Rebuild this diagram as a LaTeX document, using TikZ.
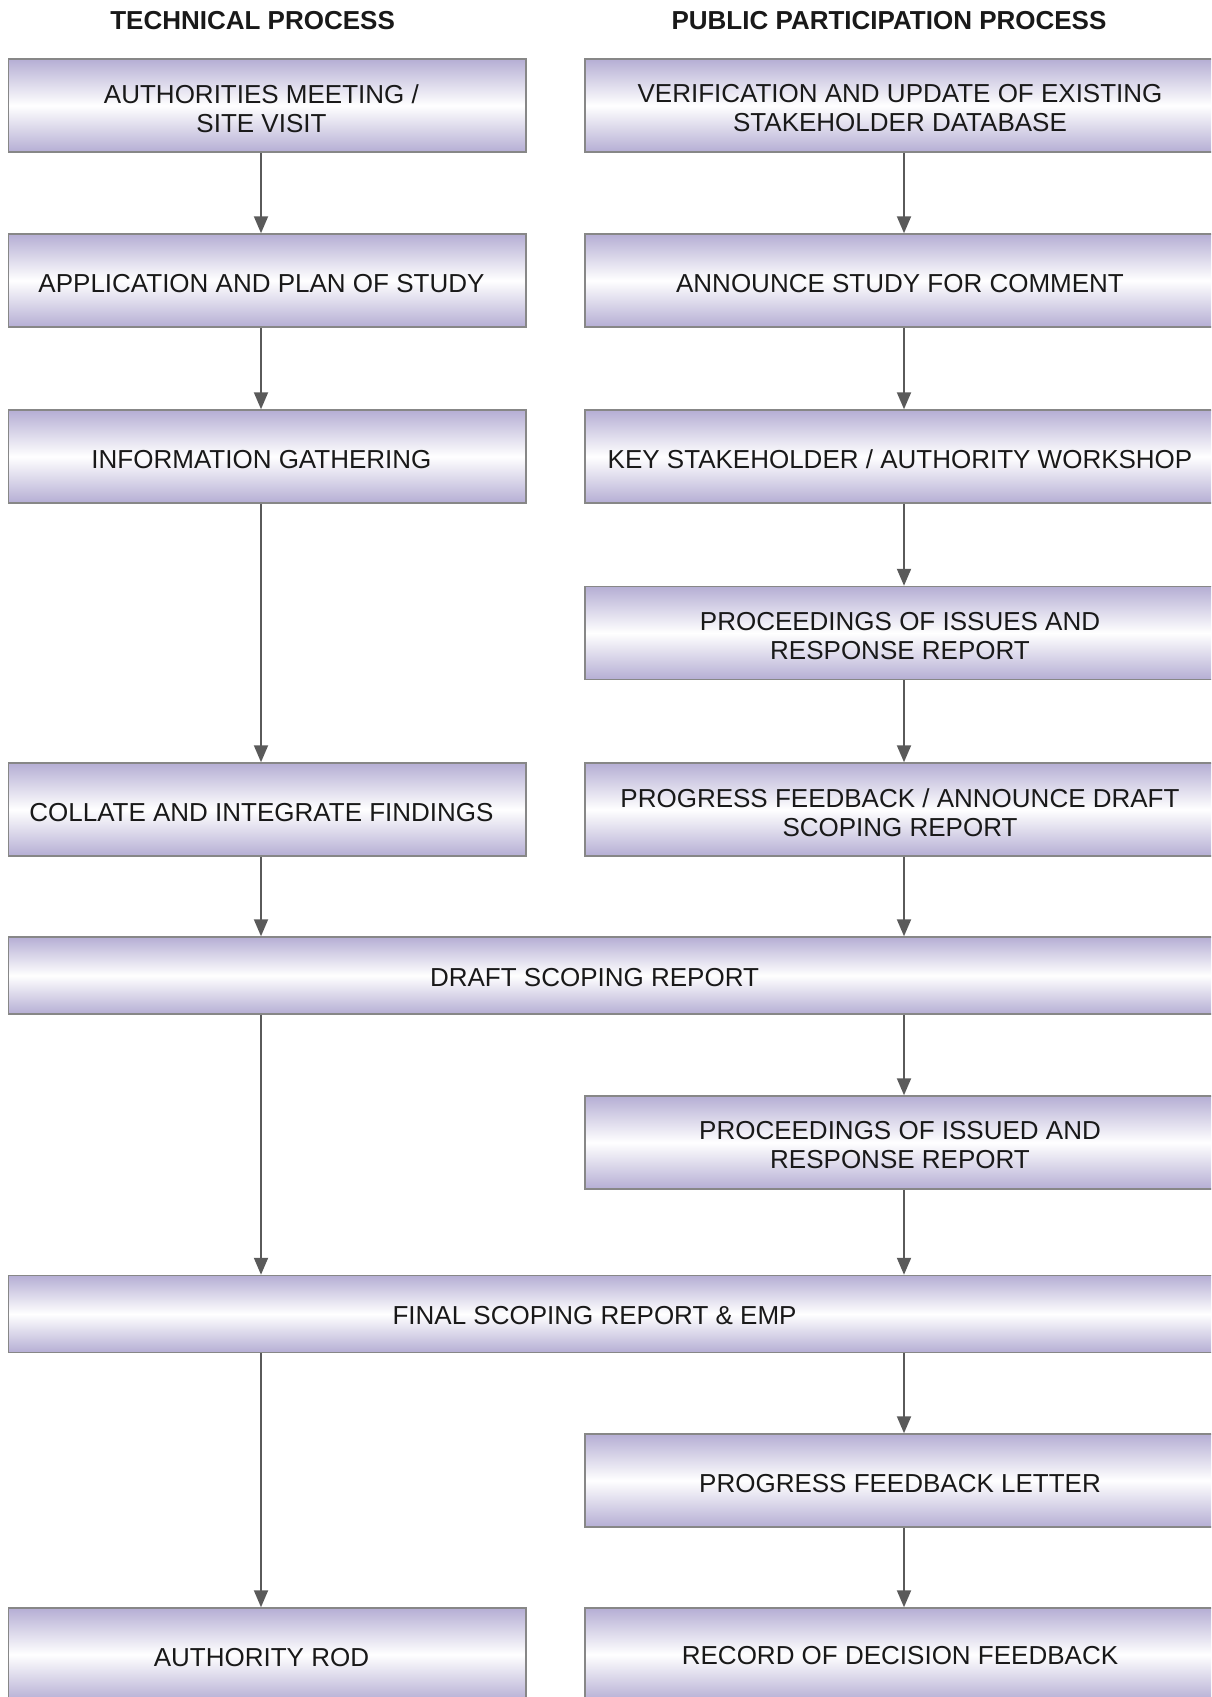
\documentclass[tikz,border=0pt]{standalone}
\usepackage{fontspec}
\setmainfont{Liberation Sans}
\usetikzlibrary{arrows.meta}
\definecolor{lav}{RGB}{181,174,212}
\definecolor{edgec}{RGB}{135,135,135}
\definecolor{arrc}{RGB}{90,90,90}
\begin{document}
\begin{tikzpicture}[x=0.5pt,y=-0.5pt,
  box/.style={draw=edgec, line width=0.75pt, top color=lav, bottom color=lav, middle color=white,
    minimum height=46.5pt, inner sep=0pt},
  txt/.style={align=center, inner sep=0pt, font=\fontsize{13}{14.5}\selectfont, text=black!90},
  lbox/.style={box, minimum width=258.75pt},
  rbox/.style={box, minimum width=315pt},
  wbox/.style={box, minimum width=603.25pt, minimum height=38.5pt},
  flow/.style={draw=arrc, line width=1pt, -{Triangle[width=7pt,length=8.5pt]}},
  title/.style={font=\fontsize{13}{15}\selectfont\bfseries, text=black!90}]
\useasboundingbox (0,0) rectangle (1211,1697);
\clip (0,0) rectangle (1211,1697);

\node[title] (t1) at (252.6,21) {TECHNICAL PROCESS};
\node[title] (t2) at (889,21) {PUBLIC PARTICIPATION PROCESS};

% left column
\node[lbox, label={[txt,xshift=-2.9pt,yshift=-1.5pt]center:{AUTHORITIES MEETING /\\SITE VISIT}}] (L1) at (267.25,105.5) {};
\node[lbox, label={[txt,xshift=-2.9pt,yshift=-1.5pt]center:{APPLICATION AND PLAN OF STUDY}}] (L2) at (267.25,280.5) {};
\node[lbox, label={[txt,xshift=-2.9pt,yshift=-1.5pt]center:{INFORMATION GATHERING}}] (L3) at (267.25,456.5) {};
\node[lbox, label={[txt,xshift=-2.9pt,yshift=-1.5pt]center:{COLLATE AND INTEGRATE FINDINGS}}] (L5) at (267.25,809.5) {};
\node[lbox, label={[txt,xshift=-2.9pt,yshift=-1.5pt]center:{AUTHORITY ROD}}] (L10) at (267.25,1654.5) {};

% right column
\node[rbox, label={[txt,yshift=-1.5pt]center:{VERIFICATION AND UPDATE OF EXISTING\\STAKEHOLDER DATABASE}}] (R1) at (900,105.5) {};
\node[rbox, label={[txt,yshift=-1.5pt]center:{ANNOUNCE STUDY FOR COMMENT}}] (R2) at (900,280.5) {};
\node[rbox, label={[txt,yshift=-1.5pt]center:{KEY STAKEHOLDER / AUTHORITY WORKSHOP}}] (R3) at (900,456.5) {};
\node[rbox, label={[txt,yshift=-1.5pt]center:{PROCEEDINGS OF ISSUES AND\\RESPONSE REPORT}}] (R4) at (900,633) {};
\node[rbox, label={[txt,yshift=-1.5pt]center:{PROGRESS FEEDBACK / ANNOUNCE DRAFT\\SCOPING REPORT}}] (R5) at (900,809.5) {};
\node[rbox, label={[txt,yshift=-1.5pt]center:{PROCEEDINGS OF ISSUED AND\\RESPONSE REPORT}}] (R7) at (900,1142.5) {};
\node[rbox, label={[txt,yshift=-1.5pt]center:{PROGRESS FEEDBACK LETTER}}] (R9) at (900,1480.5) {};
\node[rbox, label={[txt,yshift=-0.5pt]center:{RECORD OF DECISION FEEDBACK}}] (R10) at (900,1654.5) {};

% wide boxes
\node[wbox, label={[txt,xshift=-8.6pt,yshift=-1pt]center:{DRAFT SCOPING REPORT}}] (W6) at (611.75,975.5) {};
\node[wbox, label={[txt,xshift=-8.6pt,yshift=-1pt]center:{FINAL SCOPING REPORT \& EMP}}] (W8) at (611.75,1314) {};

\coordinate (xL) at (261,0);
\coordinate (xR) at (904,0);

% left arrows
\draw[flow] (L1.south -| xL) -- (L2.north -| xL);
\draw[flow] (L2.south -| xL) -- (L3.north -| xL);
\draw[flow] (L3.south -| xL) -- (L5.north -| xL);
\draw[flow] (L5.south -| xL) -- (W6.north -| xL);
\draw[flow] (W6.south -| xL) -- (W8.north -| xL);
\draw[flow] (W8.south -| xL) -- (L10.north -| xL);

% right arrows
\draw[flow] (R1.south -| xR) -- (R2.north -| xR);
\draw[flow] (R2.south -| xR) -- (R3.north -| xR);
\draw[flow] (R3.south -| xR) -- (R4.north -| xR);
\draw[flow] (R4.south -| xR) -- (R5.north -| xR);
\draw[flow] (R5.south -| xR) -- (W6.north -| xR);
\draw[flow] (W6.south -| xR) -- (R7.north -| xR);
\draw[flow] (R7.south -| xR) -- (W8.north -| xR);
\draw[flow] (W8.south -| xR) -- (R9.north -| xR);
\draw[flow] (R9.south -| xR) -- (R10.north -| xR);
\end{tikzpicture}
\end{document}
